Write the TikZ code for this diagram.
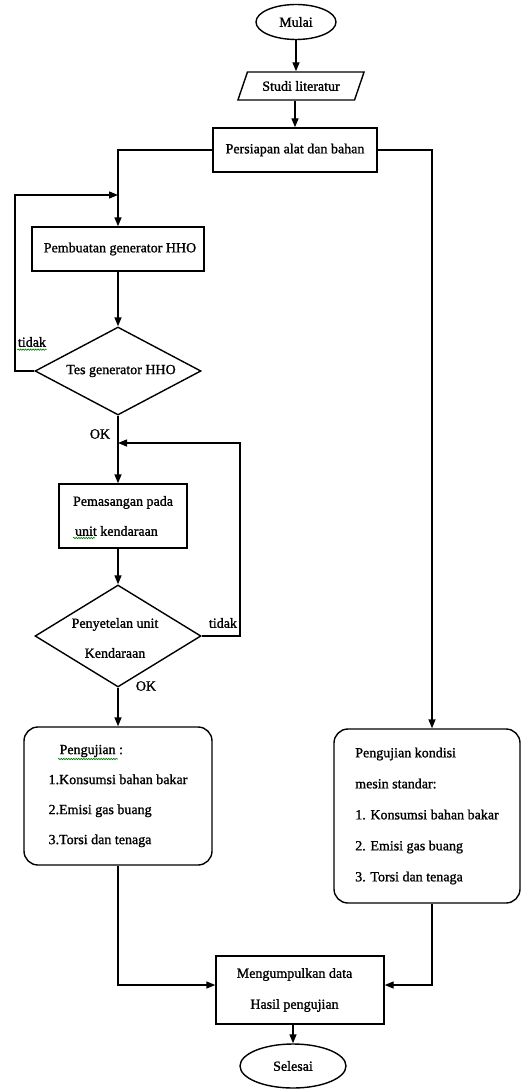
\documentclass[tikz,border=0pt]{standalone}
\usepackage{fontspec}
\setmainfont{Liberation Serif}[AutoFakeBold=1.2]
\usetikzlibrary{arrows.meta,shapes.geometric,decorations.pathmorphing}
\begin{document}
\begin{tikzpicture}[x=1pt,y=-1pt,
  font=\fontsize{14}{30}\selectfont\bfseries,
  line width=1.4pt,
  arr/.style={-{Triangle[length=9pt,width=7pt]}},
  proc/.style={draw, rectangle, inner sep=0pt, align=center},
  term/.style={draw, ellipse, inner sep=0pt},
  dec/.style={draw, diamond, inner sep=0pt},
  rbox/.style={draw, rounded corners=14pt, align=left, inner sep=0pt},
  lbl/.style={inner sep=0pt},
  sq/.style={draw=green!50!black, line width=0.6pt, decorate,
             decoration={snake, amplitude=0.7pt, segment length=2.5pt}}
]
\useasboundingbox (0,0) rectangle (521,1089);

% terminals and process boxes
\node[term, minimum width=80pt, minimum height=35pt] (mulai) at (296,22) {Mulai};
\node[draw, trapezium, trapezium left angle=55, trapezium right angle=125,
      trapezium stretches=true, minimum width=127pt, minimum height=28pt,
      inner sep=0pt] (studi) at (301,86) {Studi literatur};
\node[proc, minimum width=164pt, minimum height=44pt] (pers) at (295,150) {Persiapan alat dan bahan};
\node[proc, minimum width=172pt, minimum height=44pt] (pemb) at (118,249) {\hspace*{4pt}Pembuatan generator HHO};

\node[dec, minimum width=166pt, minimum height=88pt] (tes) at (118,371) {};
\node[lbl] (test) at (121,371) {Tes generator HHO};

\node[proc, minimum width=128pt, minimum height=64pt, align=left] (pem) at (123,516) {Pemasangan pada\\\hspace*{2pt}unit kendaraan};

\node[dec, minimum width=166pt, minimum height=102pt] (pen) at (118,636) {};
\node[lbl, align=center] (pent) at (115,638) {Penyetelan unit\\Kendaraan};

\node[rbox, minimum width=188pt, minimum height=138pt] (uji1) at (118,796)
  {\hspace*{11pt}Pengujian :\\1.Konsumsi bahan bakar\\2.Emisi gas buang\\3.Torsi dan tenaga};

\node[rbox, minimum width=186pt, minimum height=174pt, font=\fontsize{14}{31}\selectfont\bfseries] (uji2) at (427,816)
  {Pengujian kondisi\\mesin standar:\\1. Konsumsi bahan bakar\\2. Emisi gas buang\\3. Torsi dan tenaga};

\node[proc, minimum width=168pt, minimum height=68pt, font=\fontsize{14}{31}\selectfont\bfseries] (kump) at (300,990)
  {Mengumpulkan data\hspace*{11pt}\\Hasil pengujian\hspace*{11pt}};

\node[term, minimum width=106pt, minimum height=44pt] (sel) at (293,1066) {Selesai};

% labels
\node[lbl] (tdk1) at (32,342) {tidak};
\node[lbl] (ok1) at (100,434) {OK};
\node[lbl] (tdk2) at (223,623) {tidak};
\node[lbl] (ok2) at (146,686) {OK};

% spell-check squiggles
\draw[sq] ([yshift=-2pt]tdk1.south west) -- ([yshift=-2pt]tdk1.south east);
\draw[sq] (73,538) -- (95,538);
\draw[sq] (58,759) -- (118,759);

% helper coordinates
\coordinate (lloop) at (15,195);
\coordinate (j0) at (118,195);
\coordinate (rloop) at (240,443);
\coordinate (j1) at (118,443);
\coordinate (rturn) at (432,150);

% connectors
\draw[arr] (mulai.south) -- (mulai.south |- studi.north);
\draw[arr] (pers.north |- studi.south) -- (pers.north);
\draw[arr] (pers.west) -| (pemb.north);
\draw[arr] (pers.east) -| (rturn |- uji2.north);
\draw[arr] (pemb.south) -- (tes.north);
\draw[arr] (tes.west) -| (lloop) -- (j0);
\draw[arr] (tes.south) -- (tes.south |- pem.north);
\draw[arr] (pen.north |- pem.south) -- (pen.north);
\draw[arr] (pen.east) -| (rloop) -- (j1);
\draw[arr] (pen.south) -- (pen.south |- uji1.north);
\draw[arr] (uji1.south) |- ([yshift=5pt]kump.west);
\draw[arr] (rturn |- uji2.south) |- ([yshift=5pt]kump.east);
\draw[arr] (sel.north |- kump.south) -- (sel.north);
\end{tikzpicture}
\end{document}
